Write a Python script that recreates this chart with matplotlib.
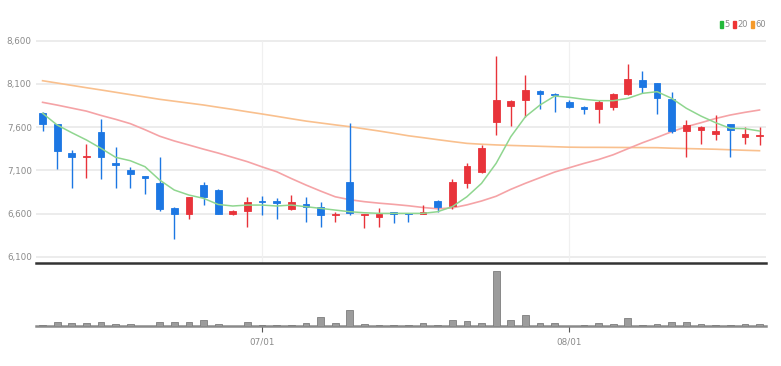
import matplotlib
matplotlib.use("Agg")
import matplotlib.pyplot as plt
from matplotlib.patches import Rectangle
import numpy as np

# ---------------- data ----------------
opens = [7760, 7640, 7300, 7250, 7540, 7180, 7100, 7030, 6950, 6660,
         6590, 6930, 6870, 6600, 6630, 6740, 6750, 6650, 6710, 6670,
         6580, 6970, 6580, 6560, 6610, 6600, 6600, 6750, 6690, 6950,
         7080, 7660, 7840, 7910, 8020, 7980, 7890, 7830, 7810, 7830,
         7980, 8150, 8110, 7930, 7550, 7570, 7520, 7640, 7480, 7500]
highs = [7780, 7640, 7340, 7400, 7690, 7370, 7140, 7030, 7260, 6670,
         6790, 6970, 6880, 6640, 6790, 6800, 6780, 6810, 6790, 6730,
         6620, 7650, 6600, 6660, 6620, 6600, 6700, 6760, 7000, 7190,
         7390, 8420, 7910, 8200, 8030, 7990, 7910, 7840, 7910, 8000,
         8330, 8250, 8110, 8010, 7680, 7610, 7740, 7640, 7600, 7600]
lows = [7550, 7120, 6900, 7010, 7000, 6890, 6890, 6830, 6630, 6300,
        6540, 6700, 6590, 6580, 6440, 6580, 6540, 6640, 6500, 6440,
        6500, 6580, 6430, 6440, 6490, 6500, 6600, 6620, 6650, 6900,
        7070, 7510, 7610, 7720, 7810, 7770, 7820, 7750, 7650, 7800,
        7970, 7990, 7750, 7530, 7260, 7410, 7450, 7260, 7400, 7390]
closes = [7640, 7320, 7260, 7270, 7250, 7160, 7060, 7010, 6650, 6590,
          6790, 6790, 6600, 6630, 6730, 6730, 6720, 6730, 6680, 6580,
          6600, 6610, 6600, 6600, 6600, 6590, 6620, 6680, 6970, 7150,
          7360, 7910, 7900, 8030, 7980, 7970, 7830, 7810, 7890, 7980,
          8160, 8070, 7940, 7550, 7630, 7600, 7550, 7570, 7520, 7510]
volumes = [10, 40, 30, 30, 40, 23, 23, 3, 40, 40,
           40, 57, 23, 3, 40, 7, 10, 10, 30, 90,
           30, 163, 23, 10, 10, 10, 30, 10, 63, 47,
           30, 547, 57, 107, 30, 30, 3, 10, 30, 23,
           80, 10, 23, 40, 40, 23, 10, 10, 23, 23]
ma5 = [7760, 7624, 7535, 7451, 7354, 7250, 7211, 7142, 6988, 6872,
       6814, 6776, 6705, 6687, 6698, 6698, 6687, 6698, 6679, 6660,
       6640, 6621, 6609, 6602, 6602, 6602, 6602, 6621, 6679, 6794,
       6949, 7181, 7489, 7720, 7856, 7960, 7945, 7922, 7906, 7906,
       7933, 7991, 8010, 7933, 7818, 7728, 7651, 7586, 7582, 7555]
ma20 = [7887, 7855, 7820, 7785, 7735, 7690, 7640, 7570, 7495, 7440,
        7393, 7345, 7300, 7250, 7200, 7140, 7084, 7005, 6930, 6860,
        6794, 6760, 6737, 6720, 6706, 6690, 6670, 6655, 6665, 6700,
        6745, 6800, 6880, 6950, 7015, 7080, 7130, 7180, 7225, 7280,
        7350, 7419, 7481, 7547, 7605, 7651, 7700, 7740, 7771, 7798]
ma60 = [8137, 8110, 8083, 8056, 8030, 8003, 7976, 7949, 7922, 7900,
        7878, 7856, 7830, 7805, 7778, 7752, 7725, 7697, 7670, 7648,
        7626, 7605, 7580, 7555, 7528, 7500, 7478, 7455, 7433, 7412,
        7402, 7394, 7388, 7383, 7378, 7373, 7368, 7366, 7366, 7365,
        7364, 7363, 7362, 7356, 7352, 7348, 7344, 7338, 7332, 7327]
date_ticks = [15, 36]
date_labels = ["07/01", "08/01"]
price_ticks = [6100, 6600, 7100, 7600, 8100, 8600]

# ---------------- style ----------------
plt.rcParams['font.family'] = ['Liberation Sans Narrow', 'DejaVu Sans']
UP = '#e8333a'
DOWN = '#1c77e3'
GRID = '#ebebeb'
TXT = '#8a8a8a'
FS = 6.3

W, H = 781, 366
fig = plt.figure(figsize=(W / 100, H / 100), dpi=100)
fig.patch.set_facecolor('white')

def fx(px):
    return px / W

def fy(py):
    return 1 - py / H

left, right = 36, 765.5
ax = fig.add_axes([fx(left), fy(263.3), fx(right - left), fy(30) - fy(263.3)])
axv = fig.add_axes([fx(left), fy(326), fx(right - left), fy(266) - fy(326)])

n = len(closes)
x = np.arange(n)
xlim = (-0.45, n - 1 + 0.41)

# price panel
ax.set_xlim(*xlim)
ax.set_ylim(6024, 8724)
for t in price_ticks:
    ax.axhline(t, color=GRID, lw=1.3, zorder=0)
ax.vlines(date_ticks, 6024, price_ticks[-1], colors='#f0f0f0', lw=0.9, zorder=0)

o = np.array(opens); c = np.array(closes); h = np.array(highs); l = np.array(lows)
up = c >= o
cols = np.where(up, UP, DOWN)
body_bot = np.minimum(o, c)
body_h = np.maximum(np.abs(c - o), 14)
ax.vlines(x, l, h, colors=cols, lw=1.0, zorder=3)
ax.bar(x, body_h, bottom=body_bot, width=0.46, color=cols, edgecolor=cols,
       lw=0.6, zorder=4)

ax.plot(x, ma60, color='#f9c08e', lw=1.2, zorder=2)
ax.plot(x, ma20, color='#f5a3a6', lw=1.2, zorder=2)
ax.plot(x, ma5, color='#8fd68f', lw=1.1, zorder=5)

ax.set_yticks(price_ticks)
ax.set_yticklabels([f"{t:,}" for t in price_ticks], color=TXT, fontsize=FS)
ax.tick_params(axis='y', length=0, pad=3)
ax.set_xticks([])
for s in ['top', 'right', 'left']:
    ax.spines[s].set_visible(False)
ax.spines['bottom'].set_color('#333333')
ax.spines['bottom'].set_linewidth(1.8)

# volume panel
axv.set_xlim(*xlim)
vmax = max(volumes)
axv.set_ylim(0, vmax * 60 / 55)
axv.bar(x, volumes, width=0.46, color='#9c9c9c', edgecolor='#7d7d7d', lw=0.6,
        zorder=3)
for s in ['top', 'right', 'left']:
    axv.spines[s].set_visible(False)
axv.spines['bottom'].set_color('#8a8a8a')
axv.spines['bottom'].set_linewidth(1.8)
axv.set_yticks([])
axv.set_xticks(date_ticks)
axv.set_xticklabels(date_labels, color=TXT, fontsize=FS)
axv.tick_params(axis='x', length=4, width=0.8, color='#555555', pad=4)

# legend (top right)
leg = [('5', '#22b83a', 720), ('20', '#ee3333', 733), ('60', '#f59a2a', 751)]
for lab, col, px in leg:
    fig.patches.append(Rectangle((fx(px), fy(28)), fx(3), fy(21) - fy(28),
                                 transform=fig.transFigure, color=col))
    fig.text(fx(px + 4), fy(24.5), lab, color=TXT, fontsize=6.0,
             va='center', ha='left')

fig.savefig('out.png', dpi=100, facecolor='white')
